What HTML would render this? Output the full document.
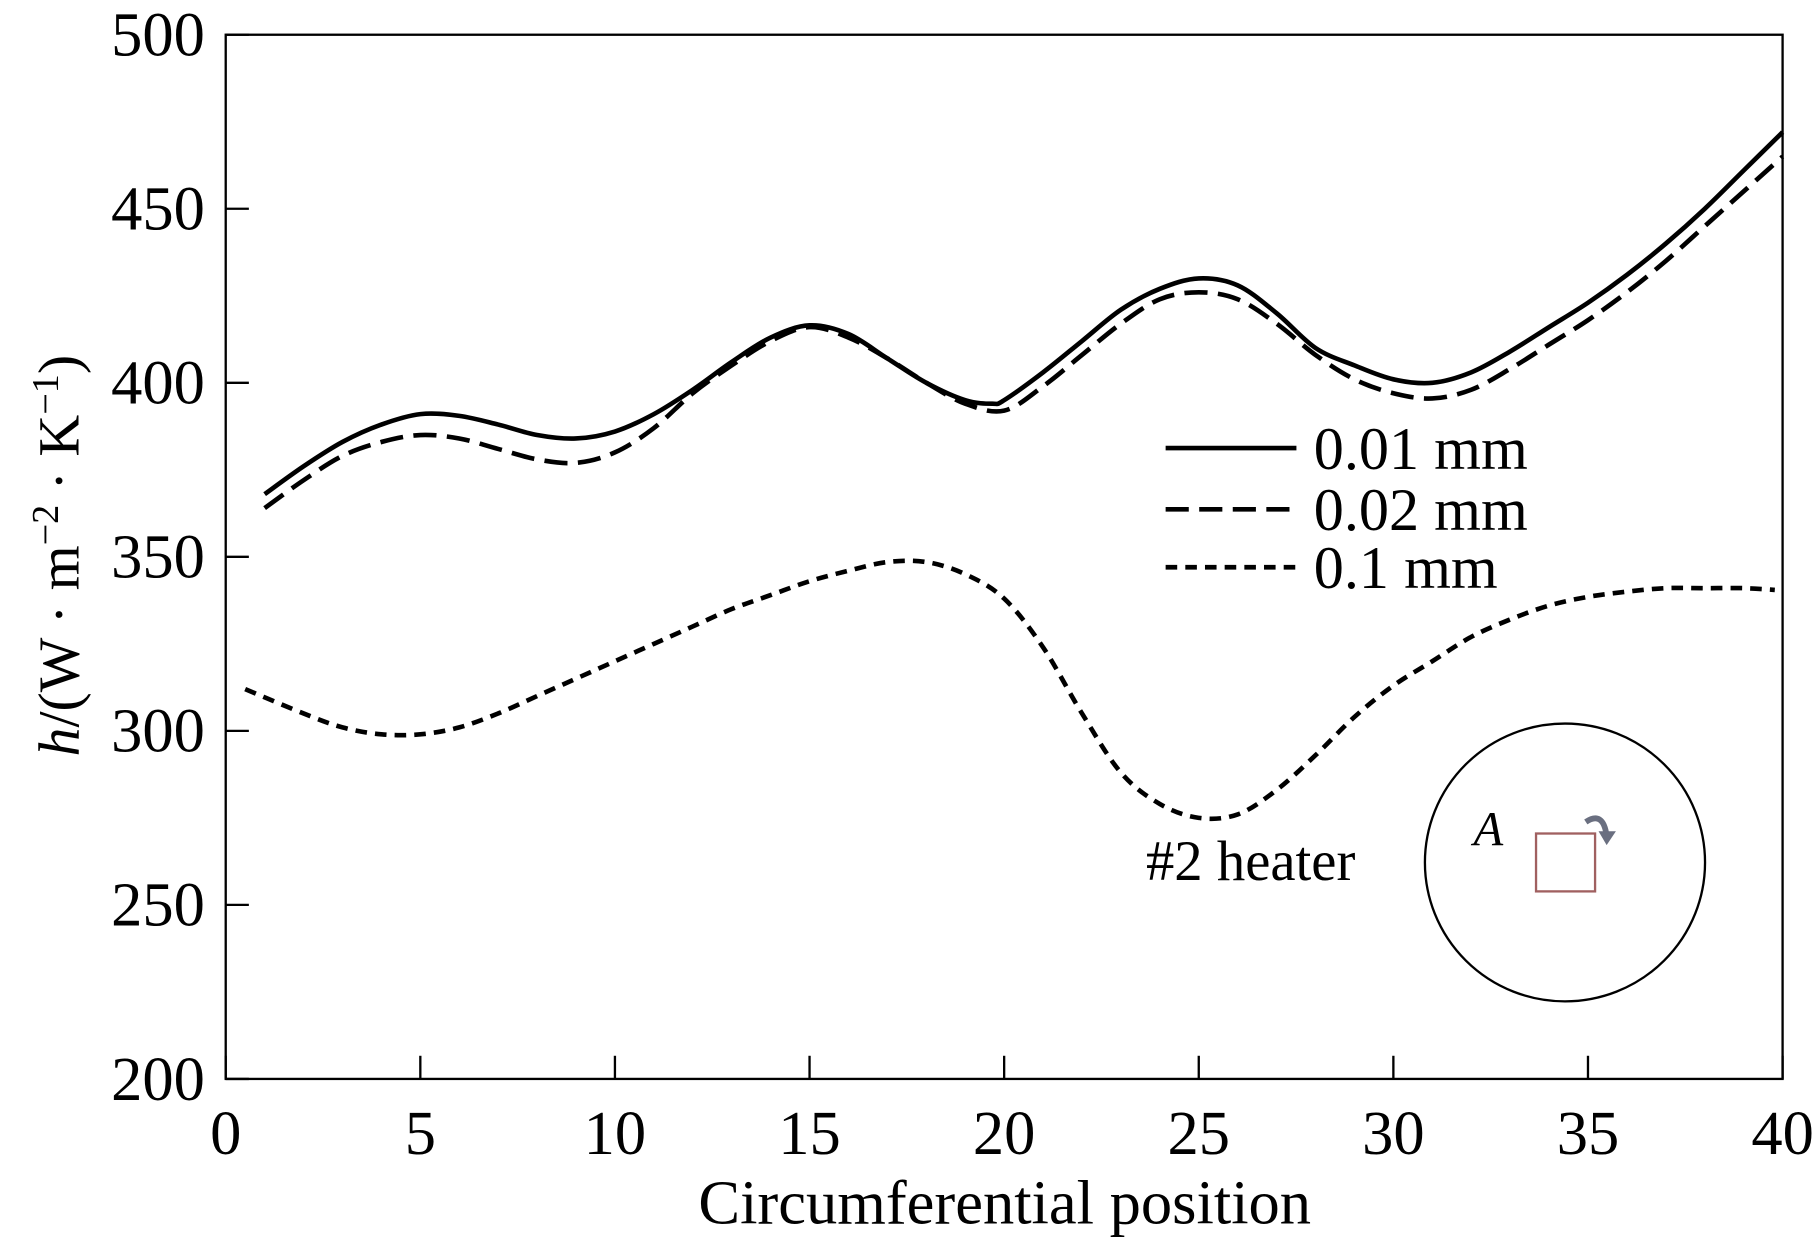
<!DOCTYPE html>
<html><head><meta charset="utf-8"><style>
html,body{margin:0;padding:0;background:#fff}
svg{display:block;font-family:"Liberation Serif",serif}
</style></head><body>
<svg id="chart" width="1815" height="1241" viewBox="0 0 1568 1072" preserveAspectRatio="none" xmlns="http://www.w3.org/2000/svg">
<rect x="195" y="30" width="1345" height="902" fill="none" stroke="#000" stroke-width="2"/>
<g id="ticks"></g>
<g id="series"></g>
<text x="868" y="1057" font-size="54" text-anchor="middle">Circumferential position</text>
<text transform="translate(68,480) rotate(-90)" font-size="50" text-anchor="middle"><tspan font-style="italic">h</tspan>/(W · m<tspan dy="-18" font-size="33">−2</tspan><tspan dy="18"> · K</tspan><tspan dy="-18" font-size="33">−1</tspan><tspan dy="18">)</tspan></text>
<g>
<line x1="1007" y1="387" x2="1120" y2="387" stroke="#000" stroke-width="4"/>
<text x="1135" y="405" font-size="52">0.01 mm</text>
<line x1="1007" y1="440" x2="1120" y2="440" stroke="#000" stroke-width="4" stroke-dasharray="20,9"/>
<text x="1135" y="458" font-size="52">0.02 mm</text>
<line x1="1007" y1="490" x2="1120" y2="490" stroke="#000" stroke-width="4" stroke-dasharray="10,7"/>
<text x="1135" y="508" font-size="52">0.1 mm</text>
</g>
<g>
<text x="990" y="760" font-size="49">#2 heater</text>
<ellipse cx="1352" cy="745" rx="121" ry="120" fill="none" stroke="#000" stroke-width="2"/>
<rect x="1327" y="720" width="51" height="50" fill="none" stroke="#a06060" stroke-width="2"/>
<text x="1273" y="730" font-size="42" font-style="italic">A</text>
<path d="M1370,710 Q1385,700 1388,722" fill="none" stroke="#6a6f80" stroke-width="5"/>
<path d="M1381,718 L1396,718 L1388,730 Z" fill="#6a6f80"/>
</g>
</svg>
<script>
const xTicks=[0,5,10,15,20,25,30,35,40];
const yTicks=[200,250,300,350,400,450,500];
const xSolid=[1,2,3,4,5,6,7,8,9,10,11,12,13,14,15,16,17,18,19,19.7,20,21,22,23,24,25,26,27,28,29,30,31,32,33,34,35,36,37,38,39,40];
const ySolid=[368,376,383,388,391,390.5,388,385,384,386,391,398,406,413,416.5,414,407,400,395,394,395,403,412,421,427,430,428,420,410,405,401,400,403,409,416,423,431,440,450,461,472];
const xDash=[1,2,3,4,5,6,7,8,9,10,11,12,13,14,15,16,17,18,19,20,21,22,23,24,25,26,27,28,29,30,31,32,33,34,35,36,37,38,39,40];
const yDash=[364,372,379,383,385,384,381,378,377,380,387,397,405,412,416,413,407,400,394,392,399,408,417,424,426,424,417,408,401,397,395.5,398,404,411,418,426,435,445,455,465];
const xDot=[0.5,2,3,4,5,6,7,8,9,10,11,12,13,14,15,16,17,18,19,20,21,22,23,24,25,26,27,28,29,30,31,32,33,34,35,36,37,38,39,39.8];
const yDot=[312,305,301,299,299,301,305,310,315,320,325,330,335,339,343,346,348.5,348.5,345,338,324,305,288,279,275,276,283,293,304,313,320,327,332,336,338.5,340,341,341,341,340.5];
const NS="http://www.w3.org/2000/svg";
const X0=195,X1=1540,Y0=932,Y1=30;
function sx(v){return X0+(v-0)/(40-0)*(X1-X0);}
function sy(v){return Y0-(v-200)/(500-200)*(Y0-Y1);}
const tg=document.getElementById('ticks');
xTicks.forEach(t=>{
  const l=document.createElementNS(NS,'line');
  
  
  l.setAttribute('x1',sx(t));l.setAttribute('x2',sx(t));l.setAttribute('y1',Y0);l.setAttribute('y2',Y0-20);
  l.setAttribute('stroke','#000');l.setAttribute('stroke-width','2');tg.appendChild(l);
  const tx=document.createElementNS(NS,'text');
  
  
  tx.setAttribute('x',sx(t));tx.setAttribute('y',997);tx.setAttribute('font-size','54');tx.setAttribute('text-anchor','middle');
  tx.textContent=t;tg.appendChild(tx);
});
yTicks.forEach(t=>{
  const l=document.createElementNS(NS,'line');
  
  
  l.setAttribute('x1',X0);l.setAttribute('x2',X0+20);l.setAttribute('y1',sy(t));l.setAttribute('y2',sy(t));
  l.setAttribute('stroke','#000');l.setAttribute('stroke-width','2');tg.appendChild(l);
  const tx=document.createElementNS(NS,'text');
  
  
  tx.setAttribute('x',177);tx.setAttribute('y',sy(t)+18);tx.setAttribute('font-size','54');tx.setAttribute('text-anchor','end');
  tx.textContent=t;tg.appendChild(tx);
});
function pathD(xs,ys){
  const p=xs.map((x,i)=>[sx(x),sy(ys[i])]);
  let d='M'+p[0][0]+','+p[0][1];
  for(let i=0;i<p.length-1;i++){
    const p0=p[Math.max(0,i-1)],p1=p[i],p2=p[i+1],p3=p[Math.min(p.length-1,i+2)];
    const c1=[p1[0]+(p2[0]-p0[0])/6,p1[1]+(p2[1]-p0[1])/6];
    const c2=[p2[0]-(p3[0]-p1[0])/6,p2[1]-(p3[1]-p1[1])/6];
    d+=' C'+c1+' '+c2+' '+p2;
  }
  return d;
}
const sg=document.getElementById('series');
[[xSolid,ySolid,'none','series-0.01mm'],[xDash,yDash,'20,9','series-0.02mm'],[xDot,yDot,'10,7','series-0.1mm']].forEach(s=>{
  const p=document.createElementNS(NS,'path');
  
  
  p.setAttribute('d',pathD(s[0],s[1]));
  p.setAttribute('fill','none');p.setAttribute('stroke','#000');p.setAttribute('stroke-width','4');
  if(s[2]!=='none')p.setAttribute('stroke-dasharray',s[2]);
  sg.appendChild(p);
});
</script>
</body></html>
